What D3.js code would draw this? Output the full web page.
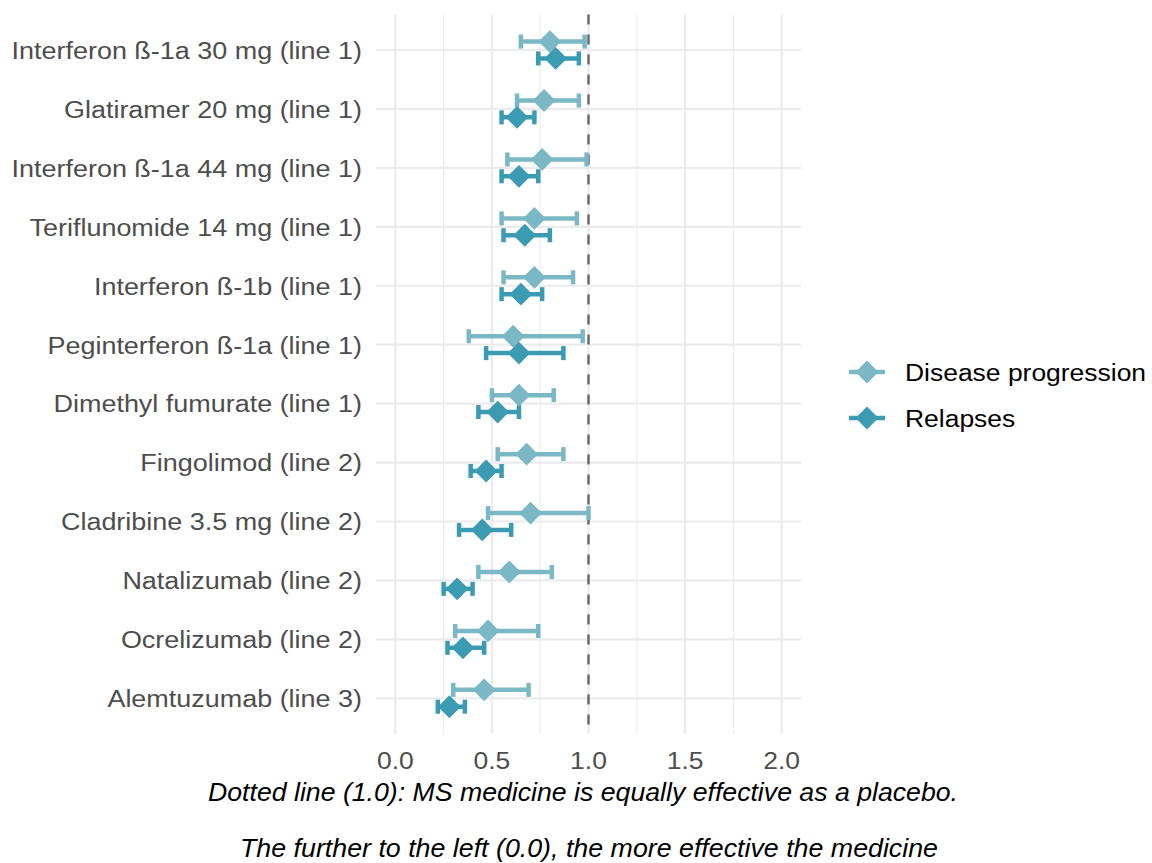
<!DOCTYPE html>
<html>
<head>
<meta charset="utf-8">
<script src="https://cdn.jsdelivr.net/npm/d3@7"></script>
<style>
  html, body { margin: 0; padding: 0; background: #ffffff; }
  svg { display: block; font-family: "Liberation Sans", Arial, sans-serif; }
</style>
</head>
<body>
<svg id="chart" width="1152" height="863"></svg>
<script>
// ---- Data ----
const categories = [
  "Interferon ß-1a 30 mg (line 1)",
  "Glatiramer 20 mg (line 1)",
  "Interferon ß-1a 44 mg (line 1)",
  "Teriflunomide 14 mg (line 1)",
  "Interferon ß-1b (line 1)",
  "Peginterferon ß-1a (line 1)",
  "Dimethyl fumurate (line 1)",
  "Fingolimod (line 2)",
  "Cladribine 3.5 mg (line 2)",
  "Natalizumab (line 2)",
  "Ocrelizumab (line 2)",
  "Alemtuzumab (line 3)"
];
const seriesNames = ["Disease progression", "Relapses"];

const progressionEst   = [0.80, 0.77, 0.76, 0.72, 0.72, 0.61, 0.64, 0.68, 0.70, 0.59, 0.48, 0.46];
const progressionLower = [0.65, 0.63, 0.58, 0.55, 0.56, 0.38, 0.50, 0.53, 0.48, 0.43, 0.31, 0.30];
const progressionUpper = [0.98, 0.95, 0.99, 0.94, 0.92, 0.97, 0.82, 0.87, 1.00, 0.81, 0.74, 0.69];

const relapsesEst   = [0.83, 0.63, 0.64, 0.67, 0.65, 0.64, 0.53, 0.47, 0.45, 0.32, 0.35, 0.28];
const relapsesLower = [0.74, 0.55, 0.55, 0.56, 0.55, 0.47, 0.43, 0.39, 0.33, 0.25, 0.27, 0.22];
const relapsesUpper = [0.95, 0.72, 0.74, 0.80, 0.76, 0.87, 0.64, 0.55, 0.60, 0.40, 0.46, 0.36];

const xTicks = [0, 0.5, 1, 1.5, 2];
const xMinorTicks = [0.25, 0.75, 1.25, 1.75];
const referenceValue = 1.0;

const captionLines = [
  "Dotted line (1.0): MS medicine is equally effective as a placebo.",
  "The further to the left (0.0), the more effective the medicine"
];

// ---- Layout ----
const colors = { "Disease progression": "#7ab8c6", "Relapses": "#3a9bb2" };
const panel = { left: 376, right: 801, top: 14.6, bottom: 733.7 };
const FS = 24.5, SX = 1.08, SXY = 1.1;

const svg = d3.select("#chart");

const x = d3.scaleLinear().domain([-0.1, 2.1]).range([panel.left, panel.right]);
const y = d3.scalePoint().domain(categories).range([50, 698.3]);
const dodge = y.step() * 0.143;
const offsets = { "Disease progression": -dodge, "Relapses": dodge };

const rows = [];
categories.forEach((c, i) => {
  rows.push({ cat: c, series: "Disease progression", est: progressionEst[i], lo: progressionLower[i], hi: progressionUpper[i] });
  rows.push({ cat: c, series: "Relapses", est: relapsesEst[i], lo: relapsesLower[i], hi: relapsesUpper[i] });
});

// Grid
const grid = svg.append("g");
grid.selectAll("line.minor").data(xMinorTicks).join("line")
  .attr("x1", d => x(d)).attr("x2", d => x(d))
  .attr("y1", panel.top).attr("y2", panel.bottom)
  .attr("stroke", "#ebebeb").attr("stroke-width", 1.1);
grid.selectAll("line.major").data(xTicks).join("line")
  .attr("x1", d => x(d)).attr("x2", d => x(d))
  .attr("y1", panel.top).attr("y2", panel.bottom)
  .attr("stroke", "#ebebeb").attr("stroke-width", 2.2);
grid.selectAll("line.hmajor").data(categories).join("line")
  .attr("x1", panel.left).attr("x2", panel.right)
  .attr("y1", d => y(d)).attr("y2", d => y(d))
  .attr("stroke", "#ebebeb").attr("stroke-width", 2.2);

// Reference dashed line
svg.append("line")
  .attr("x1", x(referenceValue)).attr("x2", x(referenceValue))
  .attr("y1", panel.top).attr("y2", panel.bottom)
  .attr("stroke", "#666666").attr("stroke-width", 2.4)
  .attr("stroke-dasharray", "10,10");

// Error bars
const capH = 7;
const eb = svg.append("g").selectAll("g").data(rows).join("g")
  .attr("stroke", d => colors[d.series]).attr("stroke-width", 4.5).attr("fill", "none");
eb.append("line")
  .attr("x1", d => x(d.lo)).attr("x2", d => x(d.hi))
  .attr("y1", d => y(d.cat) + offsets[d.series]).attr("y2", d => y(d.cat) + offsets[d.series]);
eb.append("line")
  .attr("x1", d => x(d.lo)).attr("x2", d => x(d.lo))
  .attr("y1", d => y(d.cat) + offsets[d.series] - capH).attr("y2", d => y(d.cat) + offsets[d.series] + capH);
eb.append("line")
  .attr("x1", d => x(d.hi)).attr("x2", d => x(d.hi))
  .attr("y1", d => y(d.cat) + offsets[d.series] - capH).attr("y2", d => y(d.cat) + offsets[d.series] + capH);

// Points (diamonds)
const diamond = d3.symbol().type(d3.symbolSquare).size(260);
svg.append("g").selectAll("path").data(rows).join("path")
  .attr("d", diamond)
  .attr("transform", d => `translate(${x(d.est)},${y(d.cat) + offsets[d.series]}) rotate(45)`)
  .attr("fill", d => colors[d.series]);

// Y axis labels
svg.append("g").selectAll("text").data(categories).join("text")
  .attr("transform", d => `translate(362,${y(d)}) scale(${SXY},1)`)
  .attr("dy", "0.36em")
  .attr("text-anchor", "end")
  .attr("font-size", FS)
  .attr("fill", "#4d4d4d")
  .text(d => d);

// X axis labels
svg.append("g").selectAll("text").data(xTicks).join("text")
  .attr("transform", d => `translate(${x(d)},760) scale(${SX},1)`)
  .attr("dy", "0.36em")
  .attr("text-anchor", "middle")
  .attr("font-size", FS)
  .attr("fill", "#4d4d4d")
  .text(d => d3.format(".1f")(d));

// Caption (axis title)
const capWidths = [750, 698];
const capCenters = [583, 589];
svg.append("g").selectAll("text").data(captionLines).join("text")
  .attr("x", (d, i) => capCenters[i])
  .attr("y", (d, i) => 801 + i * 56)
  .attr("text-anchor", "middle")
  .attr("font-size", 25)
  .attr("font-style", "italic")
  .attr("fill", "#000000")
  .attr("textLength", (d, i) => capWidths[i])
  .attr("lengthAdjust", "spacingAndGlyphs")
  .text(d => d);

// Legend
const legend = svg.append("g").selectAll("g").data(seriesNames).join("g")
  .attr("transform", (d, i) => `translate(867,${372 + i * 46})`);
legend.append("line")
  .attr("x1", -18).attr("x2", 18).attr("y1", 0).attr("y2", 0)
  .attr("stroke", d => colors[d]).attr("stroke-width", 4.5);
legend.append("path")
  .attr("d", diamond)
  .attr("transform", "rotate(45)")
  .attr("fill", d => colors[d]);
legend.append("text")
  .attr("transform", `translate(38,0) scale(${SX},1)`)
  .attr("dy", "0.36em")
  .attr("font-size", FS)
  .attr("fill", "#000000")
  .text(d => d);
</script>
</body>
</html>
